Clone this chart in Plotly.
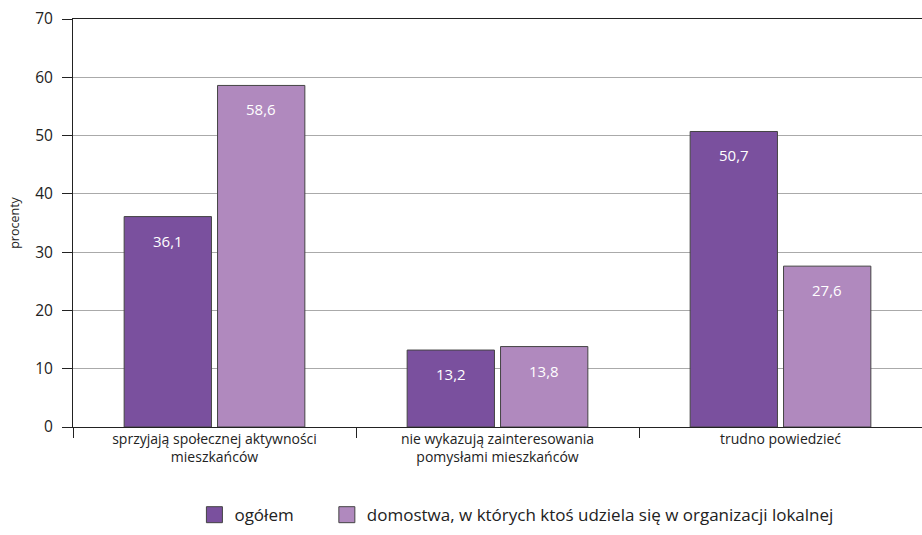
import plotly.graph_objects as go

categories = [
    "sprzyjają społecznej aktywności<br>mieszkańców",
    "nie wykazują zainteresowania<br>pomysłami mieszkańców",
    "trudno powiedzieć",
]
series_names = ["ogółem", "domostwa, w których ktoś udziela się w organizacji lokalnej"]
ogolem = [36.1, 13.2, 50.7]
organizacja = [58.6, 13.8, 27.6]
y_ticks = [0, 10, 20, 30, 40, 50, 60, 70]

colors = ["#7A509E", "#B089BE"]
outline = "#444444"
font_family = "Open Sans, sans-serif"

BARGAP = 0.34
GROUPGAP = 0.065

fig = go.Figure()
for name, vals, col in zip(series_names, [ogolem, organizacja], colors):
    fig.add_trace(go.Bar(
        x=categories,
        y=vals,
        name=name,
        marker=dict(color=col, line=dict(color=outline, width=1)),
        hoverinfo="skip",
        showlegend=False,
    ))

# bigger square legend keys, each in its own legend box so the gap can be set
for name, col, lg in zip(series_names, colors, ["legend", "legend2"]):
    fig.add_trace(go.Scatter(
        x=[None], y=[None], mode="markers", name=name, legend=lg,
        marker=dict(symbol="square", size=18, color=col,
                    line=dict(color=outline, width=1)),
    ))

# value labels inside the bars, a bit below the top
slot = (1 - BARGAP) / 2
for i, vals in enumerate([ogolem, organizacja]):
    offset = (i - 0.5) * slot
    for j, v in enumerate(vals):
        fig.add_annotation(
            x=j + offset, y=v, xref="x", yref="y",
            text=f"{v:.1f}".replace(".", ","),
            showarrow=False, yshift=-24,
            font=dict(color="white", size=15, family=font_family),
        )

legend_style = dict(
    orientation="h",
    y=-0.216, yanchor="middle",
    xanchor="left",
    font=dict(size=17, color="#222222"),
    itemsizing="trace",
)

fig.update_layout(
    width=922, height=535,
    margin=dict(l=73, r=0, t=19, b=108),
    paper_bgcolor="white",
    plot_bgcolor="white",
    barmode="group",
    bargap=BARGAP,
    bargroupgap=GROUPGAP,
    font=dict(family=font_family, color="#222222"),
    showlegend=True,
    legend=dict(x=0.143, **legend_style),
    legend2=dict(x=0.299, **legend_style),
    yaxis=dict(
        range=[0, 70],
        tickvals=y_ticks,
        showgrid=True, gridcolor="#AAAAAA", gridwidth=1,
        showline=True, linecolor="#222222", linewidth=1,
        ticks="outside", ticklen=10, tickcolor="#222222",
        tickfont=dict(size=15.5),
        ticklabelstandoff=6,
        zeroline=False,
        automargin=False,
        title=dict(text="procenty", font=dict(size=12.5), standoff=12),
    ),
    xaxis=dict(
        showline=True, linecolor="#222222", linewidth=1, mirror=True,
        ticks="outside", tickson="boundaries", ticklen=10, tickcolor="#222222",
        tickfont=dict(size=14),
        ticklabelstandoff=-1,
        automargin=False,
        showgrid=False,
    ),
)

# drop the default 8px body margin so the figure sits at the page corner
fig.write_html(
    "out.html",
    config={"displayModeBar": False},
    post_script="document.body.style.margin='0';",
)
